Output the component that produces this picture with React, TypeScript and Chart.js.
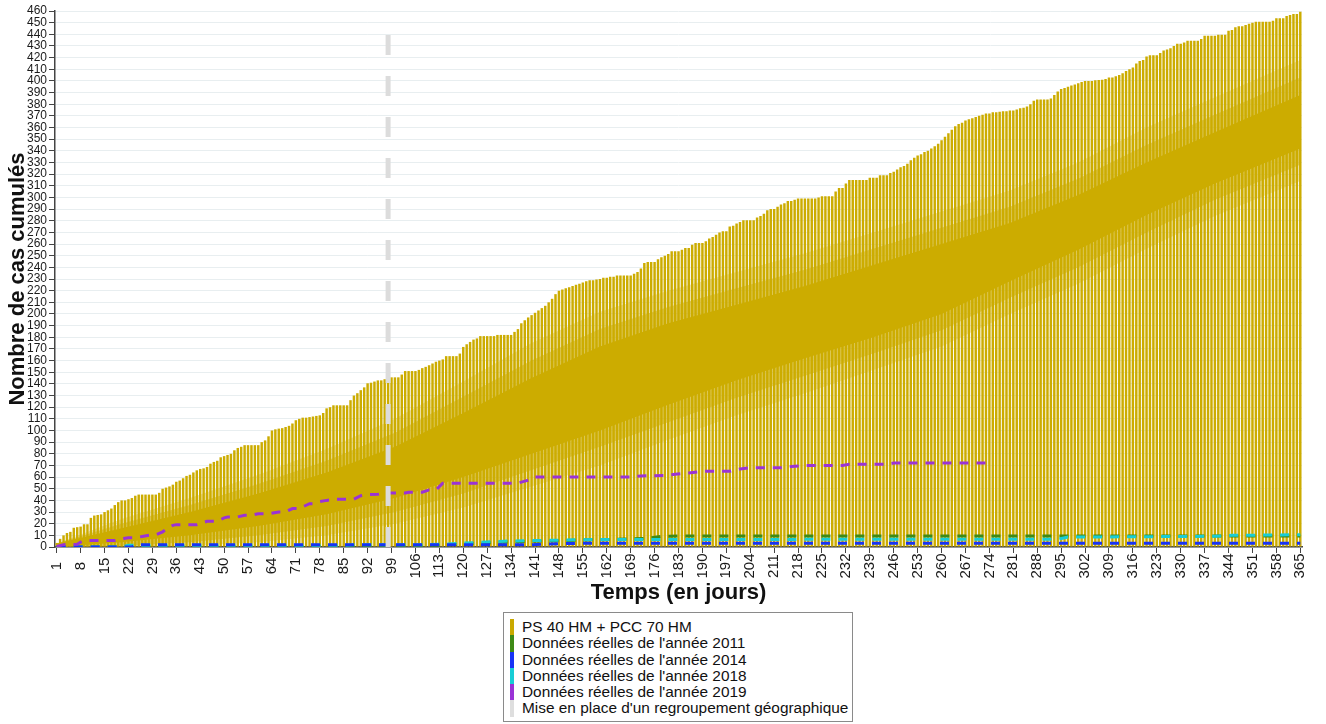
import React, { useEffect, useRef } from 'react';
import { Chart, registerables } from 'chart.js';

Chart.register(...registerables);
Chart.defaults.font.family = '"Liberation Sans", Arial, Helvetica, sans-serif';

// ---------- DATA ----------
const days: string[] = Array.from({ length: 365 }, (_, i) => String(i + 1));

const tickDays = [1, 8, 15, 22, 29, 36, 43, 50, 57, 64, 71, 78, 85, 92, 99, 106, 113, 120, 127, 134, 141, 148, 155, 162, 169, 176, 183, 190, 197, 204, 211, 218, 225, 232, 239, 246, 253, 260, 267, 274, 281, 288, 295, 302, 309, 316, 323, 330, 337, 344, 351, 358, 365];

// PS 40 HM + PCC 70 HM : cumulative cases per day (bar tops)
const psValues = [
  3.5, 7, 10, 12, 13, 16.5, 17, 17.5, 19.5, 19.5,
  25, 27, 27.5, 28, 30, 31.5, 33, 36, 38.5, 40,
  40, 41, 42, 44, 45, 45, 45, 45, 45, 45,
  46.5, 50, 51, 52, 53.5, 56, 57, 59, 61, 62,
  64, 65.8, 67, 67.5, 68.7, 71.5, 73, 74, 77, 78,
  79, 80, 83, 85, 86, 87.4, 87.4, 87.4, 87.4, 87.4,
  90, 91.5, 95, 100, 101, 101.6, 102, 103, 104, 106,
  108.8, 110, 111, 111, 111.5, 112, 112.5, 113, 115, 119,
  120, 121.6, 121.6, 121.6, 121.6, 121.6, 126, 130, 132, 134.6,
  137, 140.5, 141, 142, 143, 143, 144, 145.6, 145.6, 145.6,
  145.6, 148, 151, 151, 151, 151, 152, 153.5, 154.6, 156,
  157.5, 159, 160, 161, 163.8, 163.8, 163.8, 163.8, 166, 171.7,
  174, 176, 178, 179, 181, 181, 181, 181, 181, 182,
  182, 182, 182, 182, 184.6, 187, 192, 194.6, 197, 199,
  201, 203, 205, 207, 210, 213, 217, 220, 221, 222,
  223, 224, 225, 226, 227, 228, 229, 229, 229.5, 230,
  231, 231, 232, 232, 233, 233, 233, 233, 233, 234.5,
  236, 239, 243.7, 244.6, 244.6, 244.6, 247, 248.6, 250, 251.5,
  253.8, 253.8, 253.8, 255, 256.6, 256.6, 259.5, 261, 261, 261,
  262.4, 264.7, 266, 268, 270, 271, 271, 275, 275.6, 277.6,
  279, 280.5, 280.5, 280.5, 280.5, 282.8, 284, 286, 289, 290,
  290, 292, 294, 295, 297, 297, 298, 299, 299, 299,
  299, 299, 299, 300, 301, 301, 301, 301, 305, 308,
  308, 312, 315, 315, 315, 315, 315, 315, 317, 317,
  317, 319, 319, 319, 321, 322, 324, 326, 327, 329,
  332, 334, 336, 337, 339, 340, 342, 344, 346, 349,
  352, 355, 358, 361, 363, 364, 366, 367, 368, 369,
  370, 371, 372, 372, 373, 373, 373.5, 374, 374, 374.6,
  374.6, 375.5, 376.6, 377, 378, 380, 383, 384, 384, 384,
  384, 385, 388, 391, 393, 394, 395, 396, 397, 398,
  399, 400, 400, 400, 400.5, 400.7, 401, 401.6, 402.9, 402.9,
  404, 405, 406.5, 408.5, 410, 411.6, 415, 417, 418, 421,
  422, 422, 422, 424, 426, 427, 428, 430, 432, 432,
  433, 434.5, 434.5, 434.5, 434.5, 436, 438.8, 438.8, 438.8, 438.8,
  439.7, 439.7, 439.7, 443, 443.7, 446, 447, 447, 448, 449,
  450, 450.8, 450.8, 450.8, 450.8, 450.8, 451.7, 453.7, 453.7, 453.7,
  455.7, 456.6, 457.5, 457.5, 459.4,
];

// dense (solid-looking) band inside the bars: core, middle and outer fade
const bandDays = [1, 20, 40, 60, 80, 100, 120, 140, 160, 180, 200, 220, 240, 260, 280, 300, 320, 340, 365];
const bandCoreLow = [0, 4, 10, 18, 28, 42, 60, 80, 100, 122, 143, 162, 180, 200, 228, 255, 285, 312, 342];
const bandCoreHigh = [3, 16, 30, 46, 64, 86, 115, 145, 172, 192, 208, 224, 242, 260, 278, 302, 330, 356, 388];
const bandMidLow = [0, 1, 4, 10, 18, 30, 46, 66, 86, 107, 128, 147, 166, 186, 214, 240, 270, 298, 328];
const bandMidHigh = [3, 20, 36, 54, 74, 98, 129, 160, 187, 206, 222, 238, 256, 274, 292, 316, 345, 371, 403];
const bandOuterLow = [0, 0, 1, 4, 10, 20, 34, 52, 70, 92, 113, 132, 152, 172, 200, 226, 256, 284, 314];
const bandOuterHigh = [3, 24, 42, 62, 84, 110, 142, 175, 202, 220, 236, 252, 270, 288, 306, 330, 360, 386, 418];

// Données réelles 2019
const y2019Days = [1, 3, 7, 8, 9, 18, 19, 21, 22, 24, 26, 28, 30, 32, 34, 35, 36, 42, 45, 48, 50, 51, 54, 56, 58, 60, 63, 66, 68, 70, 72, 75, 76, 78, 80, 83, 88, 90, 92, 95, 97, 103, 104, 108, 110, 112, 114, 136, 138, 140, 141, 169, 172, 179, 182, 186, 190, 198, 201, 204, 214, 216, 220, 231, 233, 244, 246, 273];
const y2019Values = [0.5, 2, 2.3, 4.3, 5.5, 5.5, 6, 7.5, 8, 8, 9, 10, 10.5, 13, 17, 18.6, 19.2, 19.2, 22, 22, 25, 25.8, 25.8, 27.2, 27.2, 28.6, 28.6, 30.1, 30.1, 33, 33, 37.2, 37.2, 39, 40, 41, 41, 44, 45, 45.2, 46.3, 46.3, 47, 47, 49, 49, 54.8, 54.8, 56.5, 58, 60, 60, 61, 61.4, 62.5, 63.6, 65, 65, 67, 68, 68, 69, 70, 70, 71, 71, 72, 72];

// Données réelles 2011
const y2011Days = [1, 100, 110, 120, 130, 140, 150, 160, 170, 174, 178, 185, 365];
const y2011Values = [0, 0, 1, 2.5, 4, 5, 5.5, 6.3, 7, 7.5, 9.2, 9.5, 9.5];

// Données réelles 2014
const y2014Days = [1, 23, 24, 140, 150, 160, 365];
const y2014Values = [0, 0, 2, 2, 3, 3.3, 3.3];

// Données réelles 2018
const y2018Days = [1, 20, 22, 85, 88, 110, 118, 125, 132, 140, 150, 160, 294, 297, 305, 340, 345, 365];
const y2018Values = [0, 0, 1.5, 1.5, 2, 2, 3, 4, 5, 5.5, 6, 6.5, 6.6, 8.5, 8.6, 9.2, 10, 10.5];

// Mise en place d'un regroupement géographique
const groupingDay = 98;
const groupingRange = [0, 445];

const legendItems = [
  { label: 'PS 40 HM + PCC 70 HM', color: '#c9a900' },
  { label: "Données réelles de l'année 2011", color: '#3e8a16' },
  { label: "Données réelles de l'année 2014", color: '#1733f5' },
  { label: "Données réelles de l'année 2018", color: '#18cdd6' },
  { label: "Données réelles de l'année 2019", color: '#9a33d6' },
  { label: "Mise en place d'un regroupement géographique", color: '#dedede' },
];

const GOLD = '#ccac00';

const pts = (d: number[], v: number[]) => d.map((x, i) => ({ x: String(x), y: v[i] }));

const xLabelPlugin = {
  id: 'xLabelsCentered',
  afterDraw(chart: any) {
    const sc = chart.scales.x;
    const ctx = chart.ctx;
    ctx.save();
    ctx.font = '15px "Liberation Sans", Arial, sans-serif';
    ctx.fillStyle = '#1a1a1a';
    ctx.textAlign = 'center';
    ctx.textBaseline = 'middle';
    sc.ticks.forEach((t: any, i: number) => {
      const px = sc.getPixelForTick(i);
      ctx.save();
      ctx.translate(px, sc.top + 19);
      ctx.rotate(-Math.PI / 2);
      ctx.fillText(sc.getLabelForValue(t.value), 0, 0);
      ctx.restore();
    });
    ctx.restore();
  },
};

export default function App() {
  const ref = useRef<HTMLCanvasElement>(null);

  useEffect(() => {
    document.body.style.margin = '0';
    const lineBase = { type: 'line' as const, pointRadius: 0, fill: false, tension: 0 };
    const band = (low: number[], high: number[], color: string, order: number) => [
      { ...lineBase, data: pts(bandDays, low), borderWidth: 0, order } as any,
      { ...lineBase, data: pts(bandDays, high), borderWidth: 0, fill: '-1', backgroundColor: color, order } as any,
    ];
    const chart = new Chart(ref.current!, {
      type: 'bar',
      data: {
        labels: days,
        datasets: [
          { type: 'bar', label: legendItems[0].label, data: psValues, backgroundColor: GOLD, barPercentage: 0.72, categoryPercentage: 1, order: 10 } as any,
          ...band(bandOuterLow, bandOuterHigh, 'rgba(204,172,0,0.3)', 9),
          ...band(bandMidLow, bandMidHigh, 'rgba(204,172,0,0.5)', 8),
          ...band(bandCoreLow, bandCoreHigh, GOLD, 7),
          { ...lineBase, label: legendItems[1].label, data: pts(y2011Days, y2011Values), borderColor: '#3e8a16', borderWidth: 3, borderDash: [9, 8], order: 4 } as any,
          { ...lineBase, label: legendItems[3].label, data: pts(y2018Days, y2018Values), borderColor: '#18cdd6', borderWidth: 3, borderDash: [9, 8], order: 3 } as any,
          { ...lineBase, label: legendItems[2].label, data: pts(y2014Days, y2014Values), borderColor: '#1733f5', borderWidth: 3, borderDash: [9, 8], order: 2 } as any,
          { ...lineBase, label: legendItems[4].label, data: pts(y2019Days, y2019Values), borderColor: '#9a33d6', borderWidth: 3, borderDash: [9, 8], order: 1 } as any,
          { ...lineBase, label: legendItems[5].label, data: groupingRange.map((y) => ({ x: String(groupingDay), y })), borderColor: '#dcdcdc', borderWidth: 5, borderDash: [20, 21], order: 0 } as any,
        ],
      },
      options: {
        responsive: false,
        animation: false,
        devicePixelRatio: 1,
        layout: { padding: { top: 11, right: 24, left: 0, bottom: 0 } },
        plugins: { legend: { display: false }, tooltip: { enabled: false } },
        scales: {
          x: {
            type: 'category',
            offset: true,
            grid: { display: true, drawOnChartArea: false, drawTicks: true, tickLength: 6, tickColor: '#444', offset: false },
            border: { display: true, color: '#444', width: 1.5 },
            ticks: { display: false },
            afterBuildTicks: (s: any) => {
              s.ticks = s.ticks.filter((t: any) => tickDays.includes(Number(days[t.value])));
            },
            afterFit: (s: any) => { s.height = 59; },
            title: { display: true, text: 'Temps (en jours)', font: { size: 22, weight: 'bold' }, color: '#111', padding: { top: 0, bottom: 0 } },
          } as any,
          y: {
            min: 0,
            max: 460,
            ticks: { stepSize: 10, autoSkip: false, font: { size: 12 }, color: '#1a1a1a', padding: 2 },
            grid: { color: '#e8eef0', tickLength: 6, tickColor: '#444' },
            border: { display: true, color: '#444', width: 1.5 },
            afterFit: (s: any) => { s.width = 55; },
            title: { display: true, text: 'Nombre de cas cumulés', font: { size: 22, weight: 'bold' }, color: '#111', padding: { top: 5, bottom: 0 } },
          } as any,
        },
      },
      plugins: [xLabelPlugin],
    });
    return () => chart.destroy();
  }, []);

  return (
    <div style={{ position: 'relative', width: 1326, height: 724, background: '#fff', fontFamily: '"Liberation Sans", Arial, sans-serif' }}>
      <canvas ref={ref} width={1326} height={606} style={{ position: 'absolute', left: 0, top: 0, display: 'block' }} />
      <div
        style={{
          position: 'absolute', left: 503, top: 612, width: 350, height: 110, boxSizing: 'border-box',
          border: '1px solid #8a8a8a', background: '#fff', paddingTop: 6,
        }}
      >
        {legendItems.map((it, i) => (
          <div key={i} style={{ position: 'relative', height: 16.3, lineHeight: '16.3px', fontSize: 15.4, color: '#111', paddingLeft: 18, whiteSpace: 'nowrap' }}>
            <span style={{ position: 'absolute', left: 6, top: 0, width: 4, height: 16.3, background: it.color }} />
            {it.label}
          </div>
        ))}
      </div>
    </div>
  );
}
